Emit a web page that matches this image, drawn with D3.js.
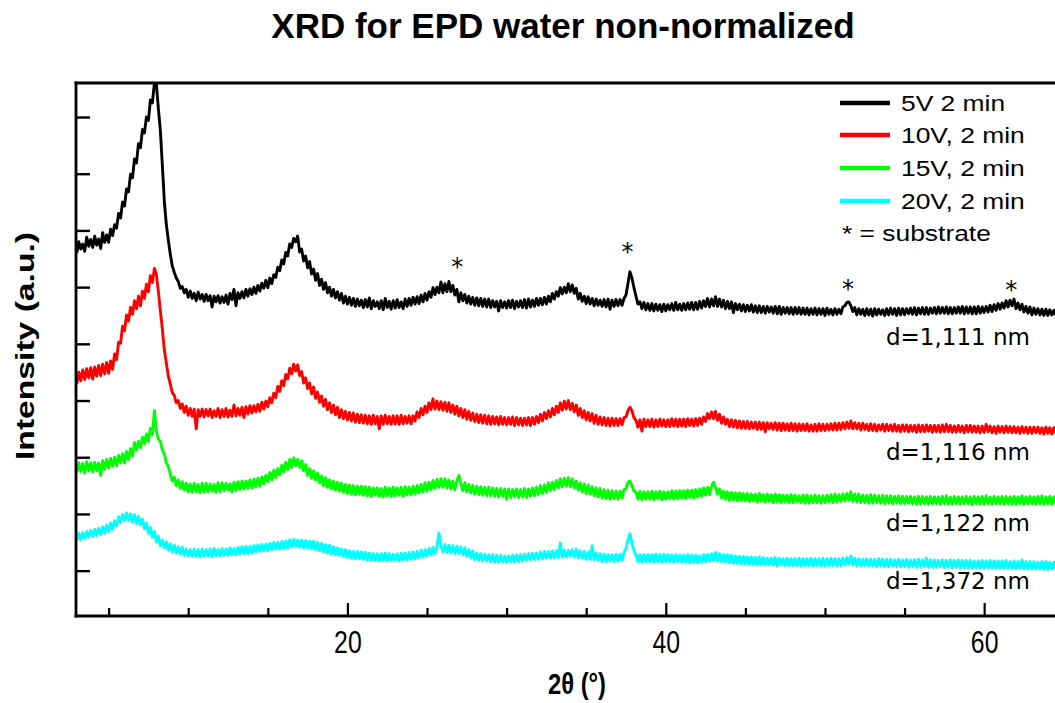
<!DOCTYPE html>
<html>
<head>
<meta charset="utf-8">
<script src="https://cdn.jsdelivr.net/npm/d3@7/dist/d3.min.js"></script>
<style>
  html, body { margin: 0; padding: 0; background: #fff; }
  svg { display: block; }
</style>
</head>
<body>
<svg id="chart" width="1055" height="703"></svg>
<script>
// ---------------- DATA ----------------
const twoThetaStart = 3;      // degrees
const twoThetaStep = 0.125;   // degrees (sampling grid)
const twoThetaEnd = 64.5;

const seriesNames = ["5V 2 min", "10V, 2 min", "15V, 2 min", "20V, 2 min"];
const seriesColors = ["#000000", "#ff0000", "#00ff00", "#00ffff"];
const dSpacingLabels = ["d=1,111 nm", "d=1,116 nm", "d=1,122 nm", "d=1,372 nm"];
const dLabelLevel = [4780, 2752, 1500, 476];   // intensity level of each label baseline

// intensity (a.u., vertically offset as in the original figure); one row = one degree
const int5V = [
 6400,6600,6470,6560,6430,6680,6520,6640, 6500,6700,6540,6650,6480,6760,6590,6720,
 6590,6820,6710,6900,6840,7100,7020,7300, 7230,7530,7480,7790,7730,8060,7990,8330,
 8260,8580,8520,8800,8740,9100,9050,9400, 9380,8950,8560,7950,7310,6900,6630,6380,
 6170,6060,5960,5900,5780,5810,5700,5760, 5620,5730,5600,5690,5560,5710,5590,5670,
 5550,5670,5560,5650,5450,5640,5540,5650, 5520,5630,5530,5660,5500,5690,5580,5760,
 5470,5700,5600,5720,5610,5760,5640,5770, 5670,5800,5690,5830,5730,5870,5780,5920,
 5790,5960,5860,6020,5970,6150,6090,6280, 6210,6410,6350,6560,6500,6660,6600,6700,
 6420,6470,6260,6350,6140,6250,6030,6120, 5920,6040,5830,5940,5760,5880,5700,5800,
 5640,5760,5610,5720,5570,5690,5520,5640, 5500,5620,5480,5600,5460,5590,5470,5570,
 5440,5580,5450,5610,5420,5560,5460,5540, 5420,5560,5400,5600,5440,5550,5410,5560,
 5430,5580,5440,5540,5420,5590,5460,5600, 5480,5620,5500,5630,5510,5660,5540,5690,
 5570,5720,5620,5790,5670,5800,5700,5890, 5700,5860,5720,5900,5720,5830,5660,5760,
 5540,5700,5560,5670,5520,5640,5500,5620, 5480,5610,5470,5600,5460,5590,5450,5590,
 5440,5560,5450,5550,5380,5560,5440,5540, 5430,5560,5440,5570,5420,5550,5450,5560,
 5440,5580,5430,5590,5450,5570,5460,5600, 5480,5600,5490,5620,5500,5640,5540,5690,
 5590,5720,5640,5790,5680,5800,5700,5860, 5720,5840,5690,5780,5590,5690,5550,5640,
 5510,5630,5500,5600,5470,5590,5480,5570, 5460,5580,5450,5590,5410,5570,5460,5580,
 5470,5580,5480,5600,5660,5870,6070,5960, 5790,5640,5500,5540,5420,5530,5400,5510,
 5390,5510,5380,5500,5390,5490,5370,5500, 5380,5490,5400,5510,5390,5530,5400,5500,
 5390,5510,5400,5520,5410,5530,5400,5530, 5410,5550,5430,5560,5460,5600,5450,5590,
 5470,5630,5460,5590,5450,5570,5420,5550, 5420,5540,5350,5510,5400,5500,5380,5490,
 5370,5480,5380,5490,5360,5470,5350,5470, 5350,5460,5340,5460,5360,5450,5340,5460,
 5330,5460,5320,5440,5340,5440,5330,5440, 5320,5440,5330,5440,5320,5430,5320,5430,
 5310,5420,5320,5430,5310,5420,5320,5420, 5300,5430,5320,5410,5310,5420,5320,5410,
 5330,5450,5470,5530,5540,5470,5370,5440, 5310,5420,5320,5410,5300,5420,5310,5410,
 5290,5420,5310,5410,5320,5400,5300,5420, 5310,5430,5320,5420,5300,5430,5310,5420,
 5310,5420,5330,5430,5320,5440,5310,5430, 5330,5440,5320,5440,5320,5430,5340,5440,
 5330,5450,5340,5440,5340,5450,5330,5440, 5330,5440,5340,5450,5340,5460,5330,5450,
 5340,5450,5330,5450,5330,5460,5340,5450, 5350,5460,5360,5480,5370,5490,5390,5510,
 5410,5520,5430,5560,5450,5570,5470,5590, 5420,5520,5400,5500,5360,5460,5340,5450,
 5310,5430,5320,5420,5310,5410,5300,5410, 5300,5400,5310,5390,5300
];
const int10V = [
 4090,4300,4150,4340,4170,4360,4200,4380, 4180,4390,4230,4420,4240,4440,4270,4470,
 4280,4500,4350,4620,4520,4830,4810,5110, 5030,5310,5200,5440,5320,5560,5420,5640,
 5470,5730,5600,5850,5720,6000,5880,6130, 6020,5720,5380,5060,4690,4460,4230,4090,
 3940,3890,3760,3800,3660,3740,3590,3700, 3540,3660,3520,3650,3300,3640,3520,3650,
 3510,3640,3530,3650,3500,3620,3520,3660, 3500,3640,3520,3660,3510,3630,3520,3720,
 3530,3660,3540,3680,3500,3690,3560,3710, 3580,3710,3600,3730,3610,3770,3650,3790,
 3690,3850,3760,3930,3850,4050,3960,4150, 4060,4260,4180,4370,4270,4440,4320,4430,
 4240,4310,4110,4200,4010,4110,3920,4040, 3840,3950,3770,3880,3700,3820,3640,3760,
 3590,3720,3550,3680,3500,3640,3480,3610, 3460,3590,3440,3580,3420,3560,3410,3550,
 3400,3540,3390,3530,3380,3540,3390,3520, 3300,3530,3380,3540,3390,3520,3380,3530,
 3390,3530,3380,3540,3390,3520,3400,3530, 3390,3530,3440,3600,3500,3660,3550,3700,
 3590,3760,3640,3830,3650,3790,3640,3780, 3630,3770,3610,3760,3590,3720,3560,3700,
 3530,3660,3500,3640,3470,3610,3450,3580, 3430,3560,3410,3550,3400,3540,3390,3530,
 3380,3520,3390,3510,3370,3520,3380,3500, 3370,3500,3380,3510,3360,3500,3370,3490,
 3360,3490,3370,3500,3360,3500,3380,3520, 3410,3560,3440,3590,3480,3620,3510,3660,
 3550,3700,3590,3760,3630,3790,3650,3800, 3640,3750,3600,3720,3540,3660,3500,3620,
 3460,3590,3440,3570,3400,3540,3380,3510, 3370,3500,3360,3490,3350,3490,3360,3480,
 3360,3480,3370,3500,3510,3620,3680,3620, 3500,3450,3330,3460,3260,3470,3340,3460,
 3340,3470,3330,3460,3340,3470,3350,3460, 3340,3460,3340,3480,3350,3470,3340,3470,
 3350,3470,3340,3480,3360,3470,3350,3480, 3360,3490,3380,3510,3430,3570,3480,3600,
 3480,3610,3450,3560,3400,3510,3380,3470, 3340,3460,3330,3450,3320,3440,3310,3430,
 3310,3430,3300,3420,3310,3420,3290,3420, 3290,3410,3250,3410,3300,3400,3290,3410,
 3280,3400,3270,3400,3280,3390,3270,3400, 3270,3390,3260,3390,3270,3380,3270,3390,
 3260,3370,3260,3380,3260,3390,3270,3380, 3270,3380,3280,3390,3280,3400,3280,3400,
 3290,3410,3300,3420,3310,3440,3300,3410, 3300,3400,3280,3400,3290,3380,3270,3390,
 3270,3380,3260,3370,3280,3380,3260,3380, 3270,3370,3260,3380,3260,3360,3250,3370,
 3260,3370,3250,3360,3260,3360,3240,3370, 3250,3360,3250,3370,3260,3360,3240,3360,
 3250,3360,3240,3370,3250,3380,3250,3360, 3240,3350,3240,3360,3250,3350,3230,3360,
 3250,3360,3240,3350,3240,3350,3230,3350, 3240,3380,3250,3350,3230,3340,3220,3350,
 3240,3340,3230,3350,3240,3340,3230,3340, 3230,3330,3220,3340,3230,3330,3220,3330,
 3220,3330,3230,3330,3220,3320,3210,3330, 3220,3320,3210,3320,3220
];
const int15V = [
 2530,2700,2550,2690,2520,2720,2560,2700, 2540,2710,2560,2700,2480,2740,2590,2760,
 2610,2780,2640,2800,2650,2830,2700,2860, 2700,2900,2760,2950,2820,3060,2930,3080,
 2970,3150,3040,3210,3080,3310,3200,3620, 3260,3120,3080,2930,2860,2700,2640,2500,
 2380,2450,2300,2400,2250,2370,2220,2340, 2190,2330,2180,2340,2190,2320,2170,2340,
 2180,2340,2190,2330,2200,2320,2180,2350, 2190,2350,2210,2340,2220,2330,2190,2360,
 2210,2370,2230,2380,2240,2380,2250,2400, 2260,2410,2280,2430,2290,2450,2330,2480,
 2370,2530,2400,2570,2440,2600,2490,2660, 2540,2710,2580,2760,2620,2790,2650,2760,
 2620,2740,2560,2670,2480,2600,2430,2560, 2400,2520,2350,2470,2300,2440,2270,2400,
 2240,2380,2220,2360,2200,2340,2180,2320, 2160,2310,2150,2300,2140,2290,2150,2290,
 2130,2280,2120,2270,2110,2260,2130,2260, 2110,2250,2100,2270,2120,2260,2110,2270,
 2120,2260,2130,2270,2110,2280,2140,2270, 2140,2290,2150,2300,2170,2320,2190,2350,
 2200,2360,2230,2390,2250,2410,2270,2420, 2270,2420,2260,2400,2240,2380,2230,2380,
 2480,2340,2210,2350,2190,2320,2170,2300, 2150,2290,2140,2280,2130,2270,2120,2270,
 2120,2260,2110,2250,2100,2250,2110,2240, 2060,2240,2090,2230,2100,2240,2090,2230,
 2100,2250,2090,2240,2110,2260,2120,2270, 2140,2300,2160,2310,2180,2350,2210,2360,
 2230,2390,2260,2420,2280,2430,2290,2440, 2280,2420,2260,2380,2220,2350,2190,2330,
 2160,2310,2150,2280,2120,2260,2100,2250, 2080,2230,2070,2220,2060,2210,2070,2200,
 2060,2200,2080,2230,2240,2360,2380,2300, 2200,2190,2060,2200,2050,2190,2060,2190,
 2060,2200,2050,2190,2070,2200,2050,2190, 2060,2190,2070,2210,2060,2200,2070,2210,
 2080,2210,2070,2220,2090,2220,2080,2230, 2100,2240,2110,2260,2130,2270,2140,2290,
 2360,2260,2150,2240,2080,2200,2060,2190, 2040,2180,2050,2170,2030,2170,2040,2160,
 2030,2160,2020,2150,2030,2150,2010,2160, 2020,2140,2010,2150,2020,2140,2000,2150,
 2010,2140,2000,2130,2010,2130,2000,2140, 2000,2130,2010,2120,2000,2130,1990,2130,
 1990,2120,2000,2130,2000,2120,1990,2120, 2000,2130,2010,2140,2000,2150,2010,2140,
 2020,2150,2030,2160,2040,2190,2020,2150, 2010,2150,2000,2130,2000,2130,1990,2140,
 1990,2130,2000,2120,1990,2130,1980,2120, 1990,2120,1980,2110,1990,2120,1980,2110,
 1980,2110,1990,2110,1980,2100,1970,2110, 1970,2110,1980,2100,1970,2110,1980,2100,
 1980,2100,1970,2110,1980,2120,1970,2100, 1970,2110,1980,2100,1970,2100,1980,2110,
 1980,2100,1960,2110,1980,2100,1970,2110, 1970,2120,1980,2100,1970,2110,1980,2100,
 1980,2110,1970,2110,1980,2100,1970,2110, 1970,2100,1980,2120,1970,2100,1980,2110,
 1980,2100,1970,2110,1980,2120,1970,2100, 1980,2110,1970,2100,1980
];
const int20V = [
 1330,1460,1350,1470,1370,1490,1390,1510, 1400,1530,1420,1550,1440,1570,1460,1600,
 1490,1640,1530,1680,1590,1750,1650,1790, 1680,1820,1680,1800,1650,1790,1630,1760,
 1610,1710,1540,1640,1460,1560,1390,1490, 1310,1410,1240,1340,1200,1310,1160,1270,
 1130,1250,1110,1220,1090,1210,1070,1180, 1060,1170,1050,1180,1050,1170,1040,1180,
 1050,1170,1060,1180,1040,1190,1060,1170, 1060,1190,1070,1180,1070,1200,1080,1190,
 1080,1210,1090,1220,1100,1230,1100,1230, 1110,1240,1130,1250,1140,1260,1150,1270,
 1150,1280,1170,1300,1180,1300,1180,1310, 1190,1320,1200,1340,1220,1350,1230,1340,
 1210,1340,1200,1330,1200,1320,1190,1320, 1170,1300,1150,1280,1130,1260,1110,1250,
 1090,1220,1080,1200,1070,1180,1050,1170, 1030,1150,1020,1140,1010,1140,1010,1130,
 1000,1120, 990,1110, 980,1100, 980,1100,  970,1100, 980,1110, 970,1100, 980,1090,
  980,1100, 970,1110, 990,1110, 990,1120, 1000,1130,1010,1140,1030,1160,1040,1170,
 1060,1190,1080,1210,1100,1220,1460,1240, 1130,1260,1120,1250,1110,1240,1100,1230,
 1100,1220,1080,1200,1050,1170,1030,1150,  990,1110, 980,1100, 970,1090, 970,1080,
  960,1080, 950,1070, 940,1070, 950,1060,  940,1060, 950,1070, 950,1080, 960,1080,
  970,1090, 980,1100, 990,1110,1000,1110, 1000,1130,1010,1140,1020,1140,1020,1150,
 1020,1150,1030,1290,1040,1160,1040,1160, 1050,1170,1040,1180,1030,1150,1020,1140,
 1000,1130,1000,1240, 990,1110, 980,1100,  960,1090, 960,1080, 970,1080, 960,1090,
  970,1090, 980,1120,1190,1340,1450,1290, 1150,1080, 960,1080, 950,1080, 960,1080,
  960,1080, 950,1090, 960,1080, 950,1090,  960,1080, 960,1070, 950,1080, 960,1070,
  950,1070, 950,1080, 940,1070, 950,1070,  940,1060, 950,1080, 960,1080, 970,1100,
  980,1120, 970,1100, 960,1080, 950,1080,  940,1070, 930,1060, 930,1050, 920,1050,
  920,1040, 910,1040, 910,1030, 900,1040,  900,1030, 900,1020, 910,1020, 900,1030,
  890,1020, 900,1010, 890,1020, 890,1010,  890,1010, 890,1020, 880,1010, 890,1010,
  890,1020, 880,1010, 890,1010, 880,1020,  880,1010, 890,1020, 890,1010, 880,1010,
  890,1020, 900,1030, 920,1060, 900,1020,  880,1010, 880,1000, 890,1010, 880,1000,
  880,1000, 870,1010, 880,1000, 870,1000,  870,1000, 880, 990, 870,1000, 870, 990,
  870,1000, 860, 990, 870, 990, 860,1000,  860, 990, 870,1020, 860, 990, 860, 990,
  860, 980, 870, 990, 850, 980, 860, 990,  850, 980, 860, 990, 850, 980, 850, 980,
  850, 980, 840, 970, 850, 970, 840, 980,  840, 970, 850, 980, 840, 970, 840, 970,
  840, 970, 840, 980, 840, 960, 840, 970,  830, 960, 840, 990, 830, 960, 830, 960,
  830, 960, 830, 950, 830, 960, 820, 960,  820, 950, 830, 950, 820
];
const seriesValues = [int5V, int10V, int15V, int20V];

// substrate reflections marked with "*"
const substratePeaks = [26.9, 37.6, 51.45, 61.7];
const substrateMarkLevel = [6250, 6515, 5855, 5840];

// axes
const xMajorTicks = [20, 40, 60];
const xMinorTicks = [5, 10, 15, 25, 30, 35, 45, 50, 55];
const yTicks = [800, 1800, 2800, 3800, 4800, 5800, 6800, 7800, 8800];

const titleText = "XRD for EPD water non-normalized";
const xLabelText = "2θ (°)";
const yLabelText = "Intensity (a.u.)";
const legendNote = "* = substrate";

// ---------------- LAYOUT ----------------
const svg = d3.select("#chart");
const plot = { left: 76, right: 1055, top: 83, bottom: 616 };

const x = d3.scaleLinear().domain([2.95, 64.45]).range([plot.left, plot.right]);
const y = d3.scaleLinear().domain([0, 9400]).range([plot.bottom, plot.top]);

const twoTheta = d3.range(twoThetaStart, twoThetaEnd + 1e-6, twoThetaStep);

svg.append("defs").append("clipPath").attr("id", "clip")
  .append("rect")
  .attr("x", plot.left).attr("y", plot.top)
  .attr("width", plot.right - plot.left).attr("height", plot.bottom - plot.top);

// series
const line = d3.line()
  .x(d => x(d[0]))
  .y(d => y(d[1]));

const gLines = svg.append("g").attr("clip-path", "url(#clip)");
for (let s = seriesValues.length - 1; s >= 0; s--) {
  const vals = seriesValues[s];
  const n = Math.min(vals.length, twoTheta.length);
  const pts = d3.range(n).map(i => [twoTheta[i], vals[i]]);
  gLines.append("path")
    .datum(pts)
    .attr("fill", "none")
    .attr("stroke", seriesColors[s])
    .attr("stroke-width", 2.9)
    .attr("stroke-linejoin", "round")
    .attr("d", line);
}

// frame (left, top, bottom visible; right edge lies outside the picture)
const frameW = 2.8;
svg.append("line").attr("x1", plot.left).attr("x2", plot.left)
  .attr("y1", plot.top - frameW / 2).attr("y2", plot.bottom + frameW / 2)
  .attr("stroke", "#000").attr("stroke-width", frameW);
svg.append("line").attr("x1", plot.left - frameW / 2).attr("x2", 1060)
  .attr("y1", plot.top).attr("y2", plot.top)
  .attr("stroke", "#000").attr("stroke-width", frameW);

// x axis
const tickFont = "'Liberation Sans Narrow', 'Arial Narrow', 'Liberation Sans', sans-serif";
const xAxisMajor = d3.axisBottom(x).tickValues(xMajorTicks).tickSize(-13).tickPadding(15)
  .tickFormat(d3.format("d"));
const gx = svg.append("g").attr("transform", `translate(0,${plot.bottom})`).call(xAxisMajor);
gx.select(".domain").remove();
gx.selectAll(".tick line").attr("stroke", "#000").attr("stroke-width", 2.2);
gx.selectAll(".tick text")
  .attr("fill", "#000")
  .attr("transform", "scale(0.8,1)")
  .style("font-family", tickFont)
  .style("font-size", "31px");

const xAxisMinor = d3.axisBottom(x).tickValues(xMinorTicks).tickSize(-8).tickFormat("");
const gxm = svg.append("g").attr("transform", `translate(0,${plot.bottom})`).call(xAxisMinor);
gxm.select(".domain").remove();
gxm.selectAll(".tick line").attr("stroke", "#000").attr("stroke-width", 2.2);

svg.append("line").attr("x1", plot.left - frameW / 2).attr("x2", 1060)
  .attr("y1", plot.bottom).attr("y2", plot.bottom)
  .attr("stroke", "#000").attr("stroke-width", frameW);

// y axis (ticks only, no labels)
const yAxis = d3.axisLeft(y).tickValues(yTicks).tickSize(-14).tickFormat("");
const gy = svg.append("g").attr("transform", `translate(${plot.left},0)`).call(yAxis);
gy.select(".domain").remove();
gy.selectAll(".tick line").attr("stroke", "#000").attr("stroke-width", 2.4);

// title
svg.append("text")
  .attr("x", 563).attr("y", 38)
  .attr("text-anchor", "middle")
  .style("font-family", "'Liberation Sans', Arial, sans-serif")
  .style("font-weight", "bold")
  .style("font-size", "35px")
  .text(titleText);

// axis labels
svg.append("text")
  .attr("transform", "translate(577,694) scale(0.82,1)")
  .attr("text-anchor", "middle")
  .style("font-family", tickFont)
  .style("font-weight", "bold")
  .style("font-size", "29px")
  .text(xLabelText);

svg.append("text")
  .attr("transform", "translate(34,346) rotate(-90)")
  .attr("text-anchor", "middle")
  .attr("textLength", 228)
  .attr("lengthAdjust", "spacingAndGlyphs")
  .style("font-family", "'Liberation Sans', Arial, sans-serif")
  .style("font-weight", "bold")
  .style("font-size", "25px")
  .text(yLabelText);

// substrate asterisks
svg.append("g").selectAll("text")
  .data(substratePeaks)
  .join("text")
  .attr("x", d => x(d))
  .attr("y", (d, i) => y(substrateMarkLevel[i]) + 13)
  .attr("text-anchor", "middle")
  .style("font-family", "'DejaVu Sans', sans-serif")
  .style("font-size", "24px")
  .text("*");

// d-spacing labels
svg.append("g").selectAll("text")
  .data(dSpacingLabels)
  .join("text")
  .attr("x", 1030)
  .attr("y", (d, i) => y(dLabelLevel[i]))
  .attr("text-anchor", "end")
  .style("font-family", "'DejaVu Sans', sans-serif")
  .style("font-size", "23px")
  .text(d => d);

// legend
const legend = svg.append("g");
const legRowY = [103, 135, 168, 201];
seriesNames.forEach((name, i) => {
  legend.append("line")
    .attr("x1", 840).attr("x2", 890)
    .attr("y1", legRowY[i]).attr("y2", legRowY[i])
    .attr("stroke", seriesColors[i]).attr("stroke-width", 4.5);
  legend.append("text")
    .attr("transform", `translate(901,${legRowY[i] + 8}) scale(1.2,1)`)
    .style("font-family", "'Liberation Sans', Arial, sans-serif")
    .style("font-size", "22px")
    .text(name);
});
legend.append("text")
  .attr("transform", `translate(842,241) scale(1.2,1)`)
  .style("font-family", "'Liberation Sans', Arial, sans-serif")
  .style("font-size", "22px")
  .text(legendNote);
</script>
</body>
</html>
